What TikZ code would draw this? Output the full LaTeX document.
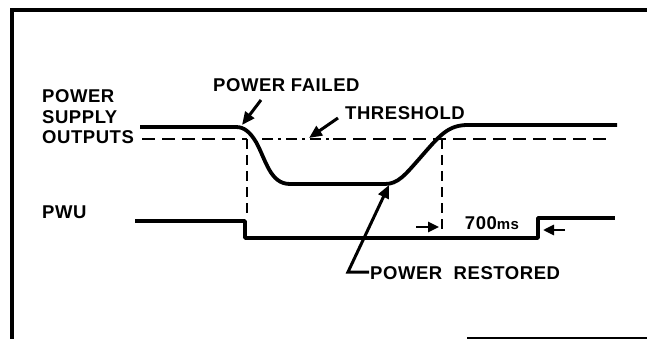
\documentclass[tikz,border=0pt]{standalone}
\usepackage{fontspec}
\setmainfont{Liberation Sans}[LetterSpace=3]
\usetikzlibrary{arrows.meta}
\tikzset{
  lbl/.style={font=\fontsize{18.5}{20.5}\selectfont\bfseries, inner sep=0pt},
  sig/.style={line width=3.8pt, line join=round},
  thr/.style={line width=2.8pt, dash pattern=on 13pt off 7pt},
  thrv/.style={line width=2.8pt, dash pattern=on 10pt off 6pt},
  thrdot/.style={line width=2.8pt, dash pattern=on 11pt off 5pt on 3pt off 5pt},
  frame/.style={line width=3.8pt},
  ptr/.style={line width=3pt, -{Triangle[length=13pt,width=11pt]}},
  sptr/.style={line width=2.6pt, -{Triangle[length=11pt,width=10pt]}},
}
\begin{document}
\begin{tikzpicture}[x=1pt,y=-1pt]
\useasboundingbox (0,0) rectangle (647,339);
% frame
\draw[frame] (12,339) -- (12,10) -- (647,10);
\draw[frame, line width=2.4pt] (467,337.8) -- (647,337.8);
% labels
\node[lbl, anchor=west, align=left] (pso) at (42,117) {POWER\\SUPPLY\\OUTPUTS};
\node[lbl, anchor=west] (pwu) at (42,212) {PWU};
\node[lbl, anchor=west] (pf) at (213,85) {POWER FAILED};
\node[lbl, anchor=west] (th) at (345,113) {THRESHOLD};
\node[lbl, anchor=center] (ms) at (492,223) {700{\fontsize{15}{16}\selectfont ms}};
\node[lbl, anchor=west] (pr) at (370,273) {POWER\ \ RESTORED};
% threshold line
\coordinate (t0) at (142,139);
\coordinate (t1) at (247,139);
\coordinate (t2) at (262,139);
\coordinate (t3) at (333,139);
\coordinate (t4) at (608,139);
\draw[thr] (t0) -- (t1);
\draw[thrv] (t1) -- (247,218);
\draw[thrdot] (t2) -- (t3);
\draw[thr] (t3) -- (t4);
\coordinate (v2a) at (442,139);
\coordinate (v2b) at (442,232);
\draw[thrv] (v2a) -- (v2b);
% power supply output
\draw[sig] (140,127) -- (236,127)
  .. controls (244,127) and (250,132) .. (256,142)
  .. controls (266,160) and (270,184) .. (290,184)
  -- (385,184)
  .. controls (398,184) and (405,175) .. (420,158)
  .. controls (440,135) and (448,125) .. (468,125)
  -- (617,125);
% PWU
\draw[sig] (135,221) -- (245,221) -- (245,238) -- (538,238) -- (538,218) -- (615,218);
% pointers
\coordinate (pfa) at (261,100);
\coordinate (pft) at (242,125);
\draw[ptr] (pfa) -- (pft);
\coordinate (tha) at (338,118);
\coordinate (tht) at (309,138);
\draw[ptr] (tha) -- (tht);
\coordinate (pra) at (369,272);
\coordinate (prb) at (348,272);
\coordinate (prt) at (389,185);
\draw[ptr] (pra) -- (prb) -- (prt);
\coordinate (m1a) at (416,227);
\coordinate (m1t) at (439,227);
\draw[sptr] (m1a) -- (m1t);
\coordinate (m2a) at (565,230);
\coordinate (m2t) at (543,230);
\draw[sptr] (m2a) -- (m2t);
\end{tikzpicture}
\end{document}
